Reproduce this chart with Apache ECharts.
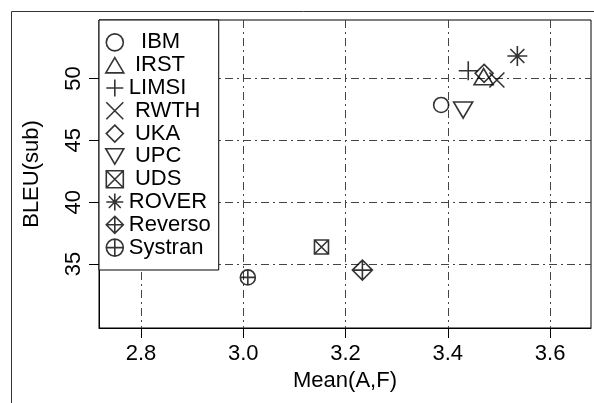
<!DOCTYPE html>
<html><head><meta charset="utf-8">
<script src="https://cdn.jsdelivr.net/npm/echarts@6/dist/echarts.min.js"></script>
<style>html,body{margin:0;padding:0;background:#fff}#c{width:594px;height:403px}</style>
</head><body><div id="c"></div>
<script>
const systems = ['IBM','IRST','LIMSI','RWTH','UKA','UPC','UDS','ROVER','Reverso','Systran'];
const meanAF  = [3.387, 3.470, 3.440, 3.496, 3.471, 3.430, 3.153, 3.536, 3.233, 3.009];
const bleuSub = [47.86, 50.15, 50.63, 49.88, 50.42, 47.45, 36.38, 51.82, 34.51, 33.92];
const xTicks = [2.8, 3.0, 3.2, 3.4, 3.6];
const yTicks = [35, 40, 45, 50];
const xTitle = 'Mean(A,F)';
const yTitle = 'BLEU(sub)';

const FONT = '"Liberation Sans", Arial, sans-serif';
const symbolStyle = {
  IBM:     {symbol: 'circle', size: [15, 15]},
  IRST:    {symbol: 'path://M10,0 L20,17 L0,17 Z', size: [19, 16]},
  LIMSI:   {symbol: 'path://M0,10 L20,10 M10,0 L10,20', size: [19, 19]},
  RWTH:    {symbol: 'path://M0,0 L20,20 M20,0 L0,20', size: [15, 15]},
  UKA:     {symbol: 'path://M10,0 L20,10 L10,20 L0,10 Z', size: [18, 18]},
  UPC:     {symbol: 'path://M0,0 L20,0 L10,17 Z', size: [19, 16]},
  UDS:     {symbol: 'path://M0,0 L20,0 L20,20 L0,20 Z M0,0 L20,20 M20,0 L0,20', size: [14, 14]},
  ROVER:   {symbol: 'path://M0,10 L20,10 M10,0 L10,20 M3,3 L17,17 M17,3 L3,17', size: [20, 20]},
  Reverso: {symbol: 'path://M10,0 L20,10 L10,20 L0,10 Z M0,10 L20,10 M10,0 L10,20', size: [20, 20]},
  Systran: {symbol: 'path://M0,10 A10,10 0 1,0 20,10 A10,10 0 1,0 0,10 Z M0,10 L20,10 M10,0 L10,20', size: [15, 15]}
};
const legendPad = {IBM:'  IBM', IRST:' IRST', LIMSI:'LIMSI', RWTH:' RWTH', UKA:' UKA', UPC:' UPC', UDS:' UDS', ROVER:'ROVER', Reverso:'Reverso', Systran:'Systran'};

const markStyle = {color: 'rgba(0,0,0,0)', borderColor: '#000', borderWidth: 1.6};
const gridLine = {show: true, lineStyle: {color: '#444', width: 1, type: [8, 4, 2, 4]}};

const series = systems.map((name, i) => ({
  name: name,
  type: 'scatter',
  symbol: symbolStyle[name].symbol,
  symbolSize: symbolStyle[name].size,
  itemStyle: markStyle,
  emphasis: {disabled: true},
  silent: true,
  data: [[meanAF[i], bleuSub[i]]]
}));

const chart = echarts.init(document.getElementById('c'), null, {renderer: 'canvas'});
chart.setOption({
  animation: false,
  backgroundColor: '#fff',
  textStyle: {fontFamily: FONT},
  graphic: [{
    type: 'rect', left: 9, top: 9, z: -1,
    shape: {width: 700, height: 700},
    style: {fill: 'none', stroke: '#333', lineWidth: 1}
  }],
  grid: {left: 99, right: 3, top: 20, bottom: 75, show: true, borderColor: '#000', borderWidth: 1, backgroundColor: 'transparent'},
  xAxis: {
    type: 'value', min: 2.718, max: 3.68,
    name: xTitle, nameLocation: 'middle', nameGap: 42,
    nameTextStyle: {fontSize: 22, color: '#000', fontFamily: FONT},
    axisLine: {show: true, lineStyle: {color: '#000'}},
    axisTick: {show: true, length: 10, customValues: xTicks, lineStyle: {color: '#000'}},
    axisLabel: {customValues: xTicks, fontSize: 22, color: '#000', margin: 15, fontFamily: FONT,
      formatter: v => Number(v).toFixed(1)},
    splitLine: gridLine
  },
  yAxis: {
    type: 'value', min: 29.83, max: 54.73,
    name: yTitle, nameLocation: 'middle', nameGap: 56,
    nameTextStyle: {fontSize: 22, color: '#000', fontFamily: FONT},
    axisLine: {show: true, lineStyle: {color: '#000'}},
    axisTick: {show: true, length: 10, customValues: yTicks, lineStyle: {color: '#000'}},
    axisLabel: {customValues: yTicks, fontSize: 22, color: '#000', margin: 14, rotate: 90, fontFamily: FONT},
    splitLine: gridLine
  },
  legend: {
    orient: 'vertical', left: 99, top: 20,
    padding: [11, 8, 11, 6],
    itemGap: 0, itemWidth: 18, itemHeight: 17,
    backgroundColor: '#fff', borderColor: '#000', borderWidth: 1,
    selectedMode: false,
    textStyle: {fontSize: 22, color: '#000', lineHeight: 22.8, fontFamily: FONT},
    formatter: n => legendPad[n],
    data: systems.map(n => ({name: n, icon: symbolStyle[n].symbol, itemStyle: markStyle}))
  },
  series: series
});
</script></body></html>
